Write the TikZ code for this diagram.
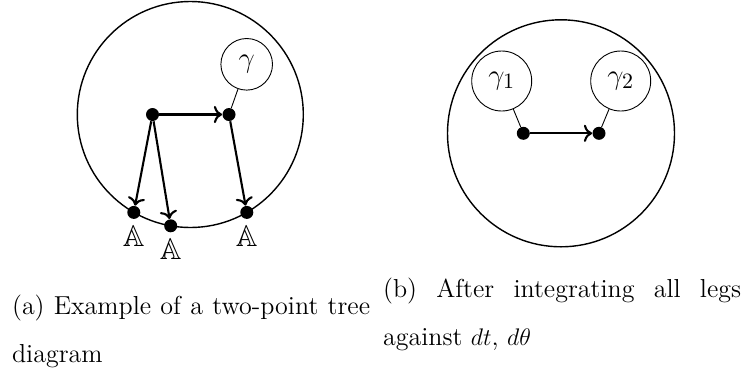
\documentclass[tikz,border=0pt]{standalone}
\usepackage{amssymb}
\usetikzlibrary{arrows.meta}
\begin{document}
\begin{tikzpicture}[x=0.5pt,y=-0.5pt,
  bigc/.style={line width=0.7pt},
  dotv/.style={circle,fill=black,inner sep=0pt,minimum size=6.5pt},
  gam/.style={circle,draw,line width=0.45pt,inner sep=0pt,minimum size=25.8pt,
    font=\fontsize{15}{16}\selectfont},
  gamb/.style={circle,draw,line width=0.45pt,inner sep=0pt,minimum size=30pt,
    font=\fontsize{15}{16}\selectfont},
  arr/.style={line width=1.05pt,-{To[scale=1.05]}},
  link/.style={line width=0.45pt},
  lab/.style={inner sep=0pt,font=\fontsize{15}{16}\selectfont},
  captext/.style={anchor=base west,inner sep=0pt,text width=179pt,align=justify,
    font=\fontsize{13}{24}\selectfont}]
\useasboundingbox (0,0) rectangle (743,376);
% (a)
\coordinate (c1) at (190.3,114.5);
\draw[bigc] (c1) circle[radius=56.5pt];
\node[dotv] (r) at (152.5,114.5) {};
\node[dotv] (b) at (229,114.5) {};
\node[gam] (g) at (246.7,64.3) {$\gamma$};
\node[dotv] (d1) at (133.8,212.4) {};
\node[dotv] (d2) at (170.7,225.8) {};
\node[dotv] (d3) at (246.8,212.4) {};
\node[lab] (a1) at (133.8,236) {$\mathbb{A}$};
\node[lab] (a2) at (170.7,249) {$\mathbb{A}$};
\node[lab] (a3) at (246.8,236) {$\mathbb{A}$};
\draw[arr] (r) -- (b);
\draw[arr] (r) -- (d1);
\draw[arr] (r) -- (d2);
\draw[arr] (b) -- (d3);
\draw[link] (g) -- (b);
% (b)
\coordinate (c2) at (561,133.3);
\draw[bigc] (c2) circle[radius=56.75pt];
\node[dotv] (p) at (523.3,133.3) {};
\node[dotv] (q) at (599,133.3) {};
\node[gamb] (g1) at (501.7,81) {$\gamma_1$};
\node[gamb] (g2) at (620.7,81) {$\gamma_2$};
\draw[arr] (p) -- (q);
\draw[link] (g1) -- (p);
\draw[link] (g2) -- (q);
% captions
\node[captext] (capa) at (11.7,314.5) {(a) Example of a two-point tree diagram};
\node[captext] (capb) at (382.7,297) {(b) After integrating all legs against $dt$, $d\theta$};
\end{tikzpicture}
\end{document}
